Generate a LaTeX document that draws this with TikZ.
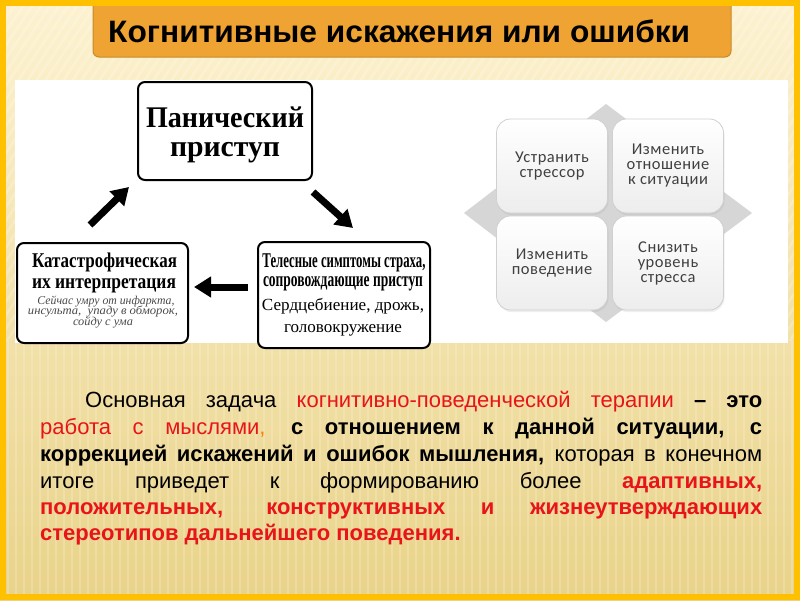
\documentclass[tikz,border=0pt]{standalone}
\usepackage{fontspec}
\usepackage{graphicx}
\setmainfont{Liberation Serif}
\newfontfamily\arialf{Liberation Sans}
\newfontfamily\calib[LetterSpace=3]{Carlito}
\usetikzlibrary{arrows.meta,shadows}
\definecolor{gold}{HTML}{FFC000}
\definecolor{titleor}{HTML}{EFA332}
\definecolor{titleorD}{HTML}{C88A2A}
\definecolor{bgtop}{HTML}{FDF2D0}
\definecolor{bgbot}{HTML}{E9D38A}
\definecolor{txtred}{HTML}{E8141A}
\definecolor{boxtxt}{HTML}{404040}
\definecolor{diagray}{HTML}{D6D6D6}
\definecolor{qborder}{HTML}{D0D0D0}
\definecolor{qbot}{HTML}{EDEDED}
\definecolor{itgray}{HTML}{4A4A4A}
\newcommand\fitw[2]{\resizebox{#1}{\height}{#2}}
\tikzset{
  lbox/.style={draw=black, line width=2pt, rounded corners=7pt, fill=white, inner sep=0pt},
  blk/.style={black, line width=7pt, -{Triangle[width=20pt,length=17pt]}},
  qbox/.style={rounded corners=14pt, draw=qborder, line width=0.8pt, top color=white, bottom color=qbot,
     minimum width=111pt, minimum height=94pt, inner sep=0pt, text=boxtxt, align=center,
     font=\calib\fontsize{16.5}{15}\selectfont, drop shadow={opacity=0.12, shadow xshift=1pt, shadow yshift=-2pt}},
  lt/.style={anchor=base, inner sep=0pt},
  para/.style={anchor=base west, inner sep=0pt, font=\arialf\fontsize{22}{26}\selectfont}
}
\begin{document}
\begin{tikzpicture}[x=1pt,y=-1pt]
\useasboundingbox (0,0) rectangle (800,600);
% background
\fill[top color=bgtop, bottom color=bgbot] (0,0) rectangle (800,600);
\begin{scope}
  \clip (0,0) rectangle (800,340);
  \foreach \i in {0,9,...,1200} { \draw[white, opacity=0.22, line width=2.5pt] (\i-400,600) -- (\i,0); }
\end{scope}
\begin{scope}
  \clip (0,340) rectangle (800,600);
  \foreach \i in {0,8,...,800} { \draw[white, opacity=0.18, line width=2.5pt] (\i,340) -- (\i,600); }
\end{scope}
% title
\draw[titleorD, fill=titleor, line width=1pt, rounded corners=6pt] (93,-10) rectangle (731,57);
\node[anchor=west, inner sep=0pt] (title) at (108,31)
  {\fitw{582pt}{\arialf\bfseries\fontsize{31}{36}\selectfont Когнитивные искажения или ошибки}};
% white panel
\fill[white] (15,80) rectangle (788,343);
% ---------- left diagram ----------
\node[lbox, minimum width=174pt, minimum height=98pt] (pan) at (225,131) {};
\node[lt] (pan1) at (225,127) {\fitw{158pt}{\bfseries\fontsize{30}{30}\selectfont Панический}};
\node[lt] (pan2) at (225,156) {\fitw{110pt}{\bfseries\fontsize{30}{30}\selectfont приступ}};

\node[lbox, minimum width=171pt, minimum height=100pt] (kat) at (102.5,293) {};
\node[lt] (kat1) at (104.5,267) {\fitw{145pt}{\bfseries\fontsize{21}{21}\selectfont Катастрофическая}};
\node[lt] (kat2) at (104,288) {\fitw{144pt}{\bfseries\fontsize{21}{21}\selectfont их интерпретация}};
\node[lt, text=itgray] (kat3) at (106,304) {\fitw{137pt}{\itshape\fontsize{12}{12}\selectfont Сейчас умру от инфаркта,}};
\node[lt, text=itgray] (kat4) at (103,314.5) {\fitw{150pt}{\itshape\fontsize{12}{12}\selectfont инсульта,\ \ упаду в обморок,}};
\node[lt, text=itgray] (kat5) at (103,325) {\fitw{60pt}{\itshape\fontsize{12}{12}\selectfont сойду с ума}};

\node[lbox, minimum width=172pt, minimum height=106pt] (tel) at (344,295) {};
\node[lt] (tel1) at (344,267) {\fitw{163pt}{\bfseries\fontsize{21}{21}\selectfont Телесные симптомы страха,}};
\node[lt] (tel2) at (343,286) {\fitw{160pt}{\bfseries\fontsize{21}{21}\selectfont сопровождающие приступ}};
\node[lt] (tel3) at (343,310) {\fitw{162pt}{\fontsize{17}{17}\selectfont Сердцебиение, дрожь,}};
\node[lt] (tel4) at (343,332) {\fitw{118pt}{\fontsize{17}{17}\selectfont головокружение}};

\coordinate (a1s) at (90,225);  \coordinate (a1e) at (129,187);
\coordinate (a2s) at (313,192); \coordinate (a2e) at (353,228);
\coordinate (a3s) at (248,287); \coordinate (a3e) at (194,287);
\draw[blk] (a1s) -- (a1e);
\draw[blk] (a2s) -- (a2e);
\draw[blk] (a3s) -- (a3e);
% ---------- right diagram ----------
\fill[diagray] (606,104) -- (752,213) -- (606,322) -- (464,213) -- cycle;
\node[qbox] (q1) at (552,166) {Устранить\\стрессор};
\node[qbox] (q2) at (668,166) {Изменить\\отношение\\к ситуации};
\node[qbox] (q3) at (552,263) {Изменить\\поведение};
\node[qbox] (q4) at (668,263) {Снизить\\уровень\\стресса};
% ---------- paragraph ----------
\node[para] (p1) at (85,407) {\makebox[677pt][s]{Основная задача \textcolor{txtred}{когнитивно-поведенческой терапии} \textbf{– это}}};
\node[para] (p2) at (40,434) {\makebox[722pt][s]{\textcolor{txtred}{работа с мыслями}\textcolor{orange}{,} \textbf{с отношением к данной ситуации, с}}};
\node[para] (p3) at (40,461) {\makebox[722pt][s]{\textbf{коррекцией искажений и ошибок мышления,} которая в конечном}};
\node[para] (p4) at (40,488) {\makebox[722pt][s]{итоге приведет к формированию более \textcolor{txtred}{\textbf{адаптивных,}}}};
\node[para, text=txtred] (p5) at (40,514) {\makebox[722pt][s]{\textbf{положительных, конструктивных и жизнеутверждающих}}};
\node[para, text=txtred] (p6) at (40,540) {\textbf{стереотипов дальнейшего поведения.}};
% border
\draw[gold, line width=6pt] (3,3) rectangle (797,597);
\end{tikzpicture}
\end{document}
